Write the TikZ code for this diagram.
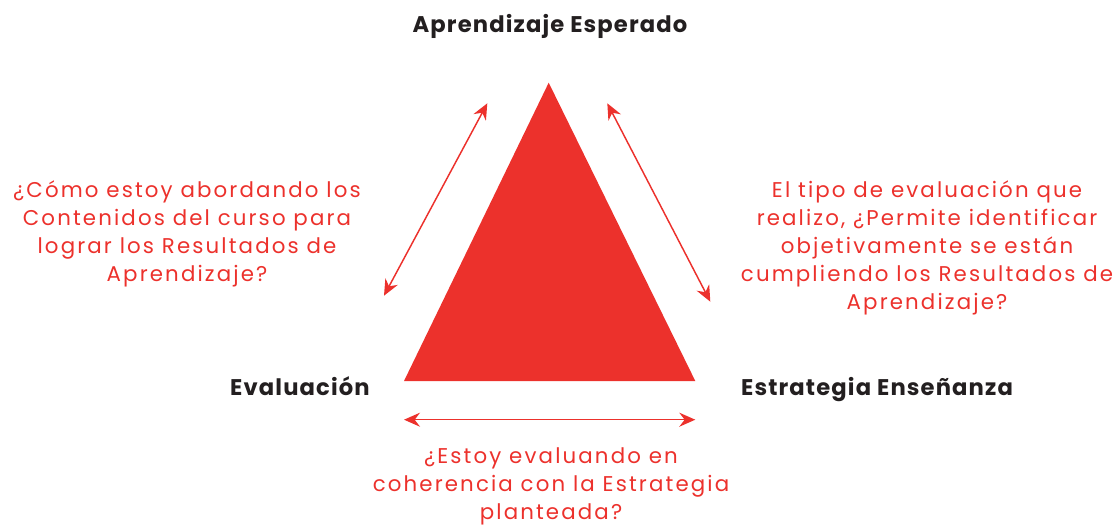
\documentclass[tikz,border=0pt]{standalone}
\usepackage{fontspec}
\setmainfont{Poppins}
\usetikzlibrary{arrows.meta}
\definecolor{trired}{RGB}{236,49,44}
\definecolor{labelblack}{RGB}{35,31,32}
\newfontfamily\qfont[LetterSpace=10]{Poppins}
\newfontfamily\lblfont[LetterSpace=5]{Poppins}

\begin{document}
\begin{tikzpicture}[x=0.75pt,y=0.75pt,yscale=-1,xscale=1,
  corner/.style={text=labelblack,inner sep=0pt,font=\lblfont\bfseries\fontsize{17}{20}\selectfont},
  question/.style={text=trired,inner sep=0pt,align=center,font=\qfont\fontsize{16}{21}\selectfont},
  twoway/.style={draw=trired,line width=1.1pt,{Stealth[length=12pt,width=10.5pt,inset=4pt]}-{Stealth[length=12pt,width=10.5pt,inset=4pt]}}]
\useasboundingbox (0,0) rectangle (1119,524);
% triangle
\coordinate (apex) at (548.7,82.7);
\coordinate (bl) at (404,381);
\coordinate (br) at (695.3,381);
\fill [trired] (apex) -- (bl) -- (br) -- cycle;
% arrows
\coordinate (la) at (384,295.7);
\coordinate (lb) at (487.3,103.3);
\coordinate (ra) at (607.3,103.3);
\coordinate (rb) at (710.3,301.7);
\coordinate (ba) at (404,419.7);
\coordinate (bb) at (695.3,419.7);
\draw [twoway] (la) -- (lb);
\draw [twoway] (ra) -- (rb);
\draw [twoway] (ba) -- (bb);
% labels (base = last line)
\node [corner,anchor=base] (title) at (550,33) {Aprendizaje Esperado};
\node [corner,anchor=base] (eval) at (300,395) {Evaluación};
\node [corner,anchor=base] (estr) at (877,395) {Estrategia Enseñanza};
\node [question,anchor=base] (qleft) at (187,281) {¿Cómo estoy abordando los\\Contenidos del curso para\\lograr los Resultados de\\Aprendizaje?};
\node [question,anchor=base] (qright) at (927,309) {El tipo de evaluación que\\realizo, ¿Permite identificar\\objetivamente se están\\cumpliendo los Resultados de\\Aprendizaje?};
\node [question,anchor=base] (qbottom) at (551,519) {¿Estoy evaluando en\\coherencia con la Estrategia\\planteada?};
\end{tikzpicture}
\end{document}
